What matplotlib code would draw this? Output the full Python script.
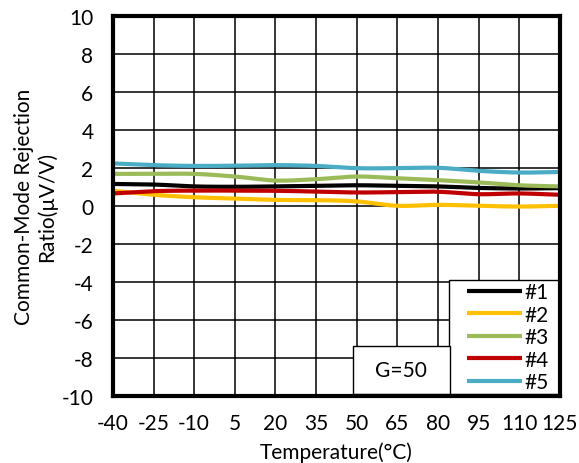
import numpy as np
import matplotlib
matplotlib.use("Agg")
import matplotlib.pyplot as plt
from matplotlib.patches import Rectangle

plt.rcParams['font.family'] = ['Lato', 'DejaVu Sans']
plt.rcParams['axes.unicode_minus'] = False

temps = [-40, -25, -10, 5, 20, 35, 50, 65, 80, 95, 110, 125]
s1 = [1.17, 1.14, 1.04, 1.02, 1.04, 1.07, 1.10, 1.07, 1.04, 0.96, 0.93, 0.95]
s2 = [0.81, 0.60, 0.47, 0.40, 0.33, 0.32, 0.25, 0.02, 0.07, 0.02, -0.02, 0.02]
s3 = [1.70, 1.70, 1.70, 1.56, 1.35, 1.42, 1.56, 1.47, 1.37, 1.25, 1.10, 1.04]
s4 = [0.67, 0.79, 0.82, 0.82, 0.81, 0.77, 0.72, 0.74, 0.76, 0.63, 0.67, 0.60]
s5 = [2.25, 2.16, 2.12, 2.13, 2.16, 2.12, 2.00, 2.00, 2.02, 1.86, 1.77, 1.80]
names = ['#1', '#2', '#3', '#4', '#5']
colors = ['#000000', '#FFC000', '#9BBB59', '#C00000', '#4BACC6']


def smooth(x, y, n=20):
    # catmull-rom through the points, like Excel's smoothed line
    x = np.asarray(x, float)
    y = np.asarray(y, float)
    px = np.concatenate([[2 * x[0] - x[1]], x, [2 * x[-1] - x[-2]]])
    py = np.concatenate([[2 * y[0] - y[1]], y, [2 * y[-1] - y[-2]]])
    xs, ys = [], []
    t = np.linspace(0, 1, n, endpoint=False)
    for i in range(1, len(px) - 2):
        for p, out in ((px, xs), (py, ys)):
            p0, p1, p2, p3 = p[i - 1], p[i], p[i + 1], p[i + 2]
            out.extend(0.5 * (2 * p1 + (-p0 + p2) * t
                              + (2 * p0 - 5 * p1 + 4 * p2 - p3) * t ** 2
                              + (-p0 + 3 * p1 - 3 * p2 + p3) * t ** 3))
    xs.append(x[-1])
    ys.append(y[-1])
    return xs, ys


fs = 15
fig = plt.figure(figsize=(5.79, 4.64), dpi=100)
ax = fig.add_axes([0.195, 0.144, 0.772, 0.819])

for ys, name, c in zip([s1, s2, s3, s4, s5], names, colors):
    sx, sy = smooth(temps, ys)
    ax.plot(sx, sy, color=c, lw=3, label=name, solid_capstyle='butt')

ax.set_xlim(-40, 125)
ax.set_ylim(-10, 10)
ax.set_xticks(temps)
ax.set_yticks(range(-10, 11, 2))
ax.grid(True, color='black', lw=1.1)
ax.set_axisbelow(True)
for sp in ax.spines.values():
    sp.set_linewidth(3)
    sp.set_zorder(6)
ax.tick_params(axis='x', length=0, labelsize=fs, pad=12)
ax.tick_params(axis='y', length=0, labelsize=fs, pad=14)

ax.set_xlabel('Temperature(°C)', fontsize=fs, labelpad=6.5)
ax.set_ylabel('Common-Mode Rejection\nRatio(µV/V)', fontsize=fs, labelpad=3,
              linespacing=1.15)

# legend frame drawn separately so it can be wider than the entries
ax.add_patch(Rectangle((0.752, 0.005), 0.25, 0.3, transform=ax.transAxes,
                       fc='white', ec='black', lw=1, zorder=4))
leg = ax.legend(loc='lower right', bbox_to_anchor=(0.985, 0.0), fontsize=fs,
                handlelength=2.6, handletextpad=0.15, labelspacing=0.12,
                borderpad=0.15, borderaxespad=0.05, frameon=False)
leg.set_zorder(5)

# gain label box, sitting against the legend
ax.add_patch(Rectangle((0.537, 0.005), 0.217, 0.127, transform=ax.transAxes,
                       fc='white', ec='black', lw=1, zorder=4))
ax.text(0.6455, 0.068, 'G=50', transform=ax.transAxes, fontsize=fs,
        ha='center', va='center', zorder=4.5)

fig.savefig('out.png', dpi=100)
